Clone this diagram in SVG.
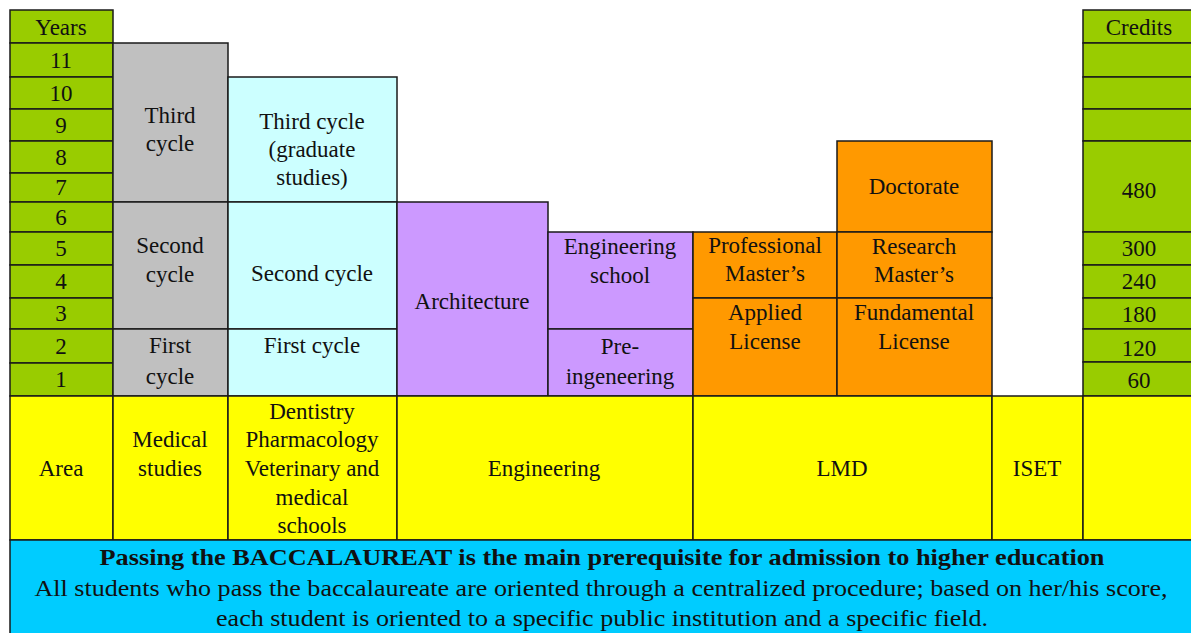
<svg xmlns="http://www.w3.org/2000/svg" width="1191" height="633" viewBox="0 0 1191 633">
<style>
rect{stroke:#1a1a1a;stroke-width:1.5}
.gr{fill:#99cc00}.gy{fill:#c0c0c0}.cy{fill:#ccffff}.pu{fill:#cc99ff}.or{fill:#ff9900}.ye{fill:#ffff00}.bl{fill:#00ccff}
text{font-family:'Liberation Serif',serif;font-size:23px;fill:#111;text-anchor:middle}
.b{font-weight:bold}
</style>
<rect x="0" y="0" width="1191" height="633" style="fill:#fff;stroke:none"/>
<g id="years" font-family="Liberation Serif">
<rect class="gr" x="10" y="10" width="103" height="33"/><text x="61" y="35">Years</text>
<rect class="gr" x="10" y="43" width="103" height="34"/><text x="61" y="68">11</text>
<rect class="gr" x="10" y="77" width="103" height="32"/><text x="61" y="101">10</text>
<rect class="gr" x="10" y="109" width="103" height="32"/><text x="61" y="133">9</text>
<rect class="gr" x="10" y="141" width="103" height="32"/><text x="61" y="165">8</text>
<rect class="gr" x="10" y="173" width="103" height="29"/><text x="61" y="195">7</text>
<rect class="gr" x="10" y="202" width="103" height="30"/><text x="61" y="225">6</text>
<rect class="gr" x="10" y="232" width="103" height="33"/><text x="61" y="256">5</text>
<rect class="gr" x="10" y="265" width="103" height="33"/><text x="61" y="289">4</text>
<rect class="gr" x="10" y="298" width="103" height="31"/><text x="61" y="321">3</text>
<rect class="gr" x="10" y="329" width="103" height="34"/><text x="61" y="354">2</text>
<rect class="gr" x="10" y="363" width="103" height="33"/><text x="61" y="387">1</text>
</g>
<g id="medical" font-family="Liberation Serif">
<rect class="gy" x="113" y="43" width="115" height="159"/><text x="170" y="123">Third</text><text x="170" y="151">cycle</text>
<rect class="gy" x="113" y="202" width="115" height="127"/><text x="170" y="253">Second</text><text x="170" y="282">cycle</text>
<rect class="gy" x="113" y="329" width="115" height="67"/><text x="170" y="353">First</text><text x="170" y="384">cycle</text>
</g>
<g id="dentistry" font-family="Liberation Serif">
<rect class="cy" x="228" y="77" width="169" height="125"/><text x="312" y="129">Third cycle</text><text x="312" y="157">(graduate</text><text x="312" y="185">studies)</text>
<rect class="cy" x="228" y="202" width="169" height="127"/><text x="312" y="281">Second cycle</text>
<rect class="cy" x="228" y="329" width="169" height="67"/><text x="312" y="353">First cycle</text>
</g>
<g id="architecture" font-family="Liberation Serif">
<rect class="pu" x="397" y="202" width="151" height="194"/><text x="472" y="309">Architecture</text>
</g>
<g id="engineering-school" font-family="Liberation Serif">
<rect class="pu" x="548" y="232" width="145" height="97"/><text x="620" y="254">Engineering</text><text x="620" y="283">school</text>
<rect class="pu" x="548" y="329" width="145" height="67"/><text x="620" y="354">Pre-</text><text x="620" y="384">ingeneering</text>
</g>
<g id="lmd-professional" font-family="Liberation Serif">
<rect class="or" x="693" y="232" width="144" height="66"/><text x="765" y="253">Professional</text><text x="765" y="281">Master’s</text>
<rect class="or" x="693" y="298" width="144" height="98"/><text x="765" y="320">Applied</text><text x="765" y="349">License</text>
</g>
<g id="lmd-research" font-family="Liberation Serif">
<rect class="or" x="837" y="141" width="155" height="91"/><text x="914" y="194">Doctorate</text>
<rect class="or" x="837" y="232" width="155" height="66"/><text x="914" y="254">Research</text><text x="914" y="282">Master’s</text>
<rect class="or" x="837" y="298" width="155" height="98"/><text x="914" y="320">Fundamental</text><text x="914" y="349">License</text>
</g>
<g id="credits" font-family="Liberation Serif">
<rect class="gr" x="1083" y="10" width="112" height="33"/><text x="1139" y="35">Credits</text>
<rect class="gr" x="1083" y="43" width="112" height="34"/>
<rect class="gr" x="1083" y="77" width="112" height="32"/>
<rect class="gr" x="1083" y="109" width="112" height="32"/>
<rect class="gr" x="1083" y="141" width="112" height="91"/><text x="1139" y="198">480</text>
<rect class="gr" x="1083" y="232" width="112" height="33"/><text x="1139" y="256">300</text>
<rect class="gr" x="1083" y="265" width="112" height="33"/><text x="1139" y="289">240</text>
<rect class="gr" x="1083" y="298" width="112" height="31"/><text x="1139" y="322">180</text>
<rect class="gr" x="1083" y="329" width="112" height="33"/><text x="1139" y="356">120</text>
<rect class="gr" x="1083" y="362" width="112" height="34"/><text x="1139" y="388">60</text>
</g>
<g id="areas" font-family="Liberation Serif">
<rect class="ye" x="10" y="396" width="103" height="144"/><text x="61" y="476">Area</text>
<rect class="ye" x="113" y="396" width="115" height="144"/><text x="170" y="447">Medical</text><text x="170" y="476">studies</text>
<rect class="ye" x="228" y="396" width="169" height="144"/><text x="312" y="419">Dentistry</text><text x="312" y="447">Pharmacology</text><text x="312" y="476">Veterinary and</text><text x="312" y="505">medical</text><text x="312" y="533">schools</text>
<rect class="ye" x="397" y="396" width="296" height="144"/><text x="544" y="476">Engineering</text>
<rect class="ye" x="693" y="396" width="299" height="144"/><text x="842" y="476">LMD</text>
<rect class="ye" x="992" y="396" width="91" height="144"/><text x="1037" y="476">ISET</text>
<rect class="ye" x="1083" y="396" width="112" height="144"/>
</g>
<g id="baccalaureate" font-family="Liberation Serif">
<rect class="bl" x="10" y="540" width="1185" height="100"/>
<text class="b" x="602" y="565" textLength="1005" lengthAdjust="spacingAndGlyphs">Passing the BACCALAUREAT is the main prerequisite for admission to higher education</text>
<text x="601" y="596" textLength="1133" lengthAdjust="spacingAndGlyphs">All students who pass the baccalaureate are oriented through a centralized procedure; based on her/his score,</text>
<text x="602" y="626" textLength="772" lengthAdjust="spacingAndGlyphs">each student is oriented to a specific public institution and a specific field.</text>
</g>
<g id="connectors"></g>
</svg>
